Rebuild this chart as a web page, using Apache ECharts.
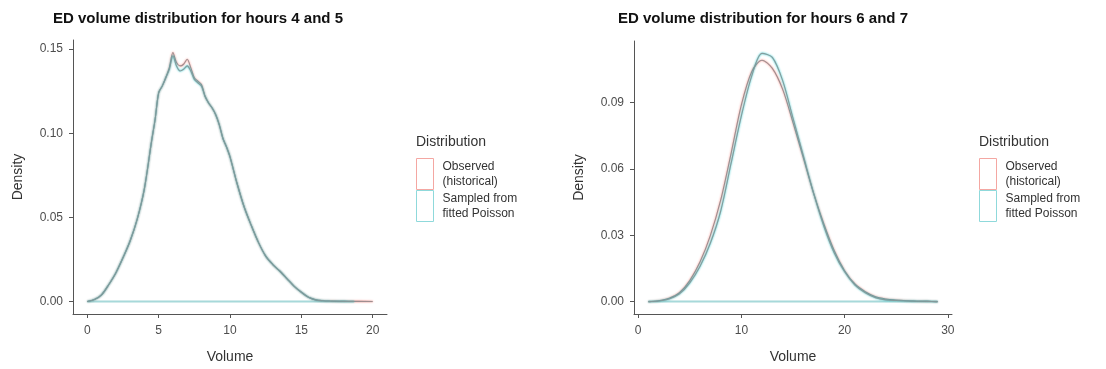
<!DOCTYPE html>
<html>
<head>
<meta charset="utf-8">
<script src="https://cdn.jsdelivr.net/npm/echarts@6/dist/echarts.min.js"></script>
<style>
  html, body { margin: 0; padding: 0; background: #fff; }
  #chart { width: 1106px; height: 369px; }
</style>
</head>
<body>
<div id="chart"></div>
<script>
// hours 4 and 5
const leftVolume = [0, 0.5, 1, 1.5, 2, 2.5, 3, 3.5, 4, 4.5, 4.75, 5, 5.25, 5.5, 5.75, 6, 6.25, 6.5, 6.75, 7, 7.25, 7.5, 7.75, 8, 8.25, 8.5, 8.75, 9, 9.25, 9.5, 9.75, 10, 10.5, 11, 11.5, 12, 12.5, 13, 13.5, 14, 14.5, 15, 15.5, 16, 16.5, 17, 18, 18.7, 19, 20]
const leftObserved = [0, 0.0012, 0.004, 0.010, 0.017, 0.026, 0.036, 0.049, 0.067, 0.095, 0.108, 0.124, 0.128, 0.133, 0.139, 0.148, 0.142, 0.140, 0.141, 0.144, 0.139, 0.133, 0.131, 0.129, 0.122, 0.118, 0.115, 0.111, 0.105, 0.097, 0.092, 0.086, 0.070, 0.056, 0.045, 0.035, 0.027, 0.022, 0.018, 0.0135, 0.009, 0.0055, 0.0025, 0.001, 0.0005, 0.0003, 0.0001, 0.0001, 0.0001, 0]
const leftFitted = [0, 0.0012, 0.004, 0.010, 0.017, 0.026, 0.036, 0.049, 0.067, 0.095, 0.108, 0.124, 0.128, 0.133, 0.138, 0.146, 0.140, 0.137, 0.138, 0.140, 0.137, 0.132, 0.130, 0.128, 0.122, 0.118, 0.115, 0.111, 0.105, 0.097, 0.092, 0.086, 0.070, 0.056, 0.045, 0.035, 0.027, 0.022, 0.018, 0.0135, 0.009, 0.0055, 0.0025, 0.001, 0.0005, 0.0003, 0.0001, 0, null, null]

// hours 6 and 7
const rightVolume = [1, 2, 3, 4, 5, 6, 7, 8, 9, 10, 11, 12, 13, 14, 15, 16, 17, 18, 19, 20, 21, 22, 23, 24, 25, 26, 27, 28, 29]
const rightObserved = [0, 0.0004, 0.0015, 0.004, 0.0095, 0.018, 0.030, 0.046, 0.067, 0.089, 0.104, 0.1092, 0.1055, 0.096, 0.081, 0.065, 0.049, 0.035, 0.023, 0.014, 0.008, 0.0045, 0.0022, 0.0012, 0.0007, 0.0004, 0.0002, 0.0001, 0]
const rightFitted = [0, 0.0003, 0.0012, 0.0035, 0.0085, 0.016, 0.0265, 0.041, 0.0625, 0.084, 0.102, 0.1123, 0.1105, 0.100, 0.083, 0.066, 0.049, 0.034, 0.022, 0.0135, 0.0075, 0.0040, 0.0018, 0.0008, 0.0005, 0.0003, 0.0002, 0.0001, 0]

const leftTicksX = [0, 5, 10, 15, 20]
const leftTicksY = [0, 0.05, 0.10, 0.15]
const rightTicksX = [0, 10, 20, 30]
const rightTicksY = [0, 0.03, 0.06, 0.09]

const obsName = 'Observed\n(historical)'
const fitName = 'Sampled from\nfitted Poisson'
const pink = '#F8766D'
const cyan = '#00BFC4'

function pairs (xs, ys) {
  let res = []
  for (let i = 0; i < xs.length; i++) {
    if (ys[i] !== null) res.push([xs[i], ys[i]])
  }
  return res
}

function baseline (xs, ys) {
  let pts = pairs(xs, ys)
  return [[pts[0][0], 0], [pts[pts.length - 1][0], 0]]
}

function xAxisOf (idx, min, max, ticks) {
  return {
    type: 'value', gridIndex: idx, min: min, max: max,
    name: 'Volume', nameLocation: 'middle', nameGap: 36,
    nameTextStyle: { fontSize: 14, color: '#333', fontFamily: 'Liberation Sans' },
    splitLine: { show: false },
    axisLine: { onZero: false, lineStyle: { color: '#555', width: 1 } },
    axisTick: { customValues: ticks, length: 4, lineStyle: { color: '#555' } },
    axisLabel: { customValues: ticks, margin: 11, fontSize: 12, color: '#4d4d4d', fontFamily: 'Liberation Sans' }
  }
}

function yAxisOf (idx, min, max, ticks) {
  return {
    type: 'value', gridIndex: idx, min: min, max: max,
    name: 'Density', nameLocation: 'middle', nameGap: 48,
    nameTextStyle: { fontSize: 14, color: '#333', fontFamily: 'Liberation Sans' },
    splitLine: { show: false },
    axisLine: { show: true, onZero: false, lineStyle: { color: '#555', width: 1 } },
    axisTick: { show: true, customValues: ticks, length: 4, lineStyle: { color: '#555' } },
    axisLabel: {
      customValues: ticks, margin: 10, fontSize: 12, color: '#4d4d4d', fontFamily: 'Liberation Sans',
      formatter: (v) => v.toFixed(2)
    }
  }
}

function curve (name, idx, data, color, core) {
  return {
    name: name, type: 'line', xAxisIndex: idx, yAxisIndex: idx,
    data: data, showSymbol: false, smooth: 0.3, silent: true,
    lineStyle: { color: core, width: 1.1, shadowColor: color, shadowBlur: 2, opacity: 0.95 },
    itemStyle: { color: color }
  }
}

function base (idx, data, color) {
  return {
    type: 'line', xAxisIndex: idx, yAxisIndex: idx, data: data,
    showSymbol: false, silent: true,
    lineStyle: { color: color, width: 2, opacity: 0.3 }
  }
}

function legendOf (left) {
  return {
    left: left, top: 158, orient: 'vertical', itemGap: 0, padding: 0,
    itemWidth: 17, itemHeight: 31, icon: 'rect',
    textStyle: { fontSize: 12, color: '#333', lineHeight: 15, fontFamily: 'Liberation Sans', padding: [0, 0, 0, 4] },
    data: [
      { name: obsName, itemStyle: { color: '#fff', borderColor: '#f4a7a2', borderWidth: 1 } },
      { name: fitName, itemStyle: { color: '#fff', borderColor: '#8fd9db', borderWidth: 1 } }
    ],
    selectedMode: false
  }
}

const titleStyle = { fontSize: 15, fontWeight: 'bold', color: '#111', fontFamily: 'Liberation Sans' }

const chart = echarts.init(document.getElementById('chart'))
chart.setOption({
  animation: false,
  title: [
    { text: 'ED volume distribution for hours 4 and 5', left: 53, top: 11, padding: 0, textStyle: titleStyle },
    { text: 'ED volume distribution for hours 6 and 7', left: 618, top: 11, padding: 0, textStyle: titleStyle }
  ],
  graphic: [
    { type: 'text', left: 416, top: 135, style: { text: 'Distribution', fontSize: 14, fill: '#333', fontFamily: 'Liberation Sans' } },
    { type: 'text', left: 979, top: 135, style: { text: 'Distribution', fontSize: 14, fill: '#333', fontFamily: 'Liberation Sans' } }
  ],
  legend: [legendOf(416), legendOf(979)],
  grid: [
    { left: 73, top: 40, width: 314, height: 277 },
    { left: 634, top: 41, width: 318, height: 276 }
  ],
  xAxis: [xAxisOf(0, -1, 21, leftTicksX), xAxisOf(1, -0.4, 30.4, rightTicksX)],
  yAxis: [yAxisOf(0, -0.0074, 0.1554, leftTicksY), yAxisOf(1, -0.0056, 0.1179, rightTicksY)],
  series: [
    base(0, baseline(leftVolume, leftObserved), '#c9a4a6'),
    base(0, baseline(leftVolume, leftFitted), cyan),
    curve(obsName, 0, pairs(leftVolume, leftObserved), pink, '#9a8c8e'),
    curve(fitName, 0, pairs(leftVolume, leftFitted), cyan, '#859899'),
    base(1, baseline(rightVolume, rightObserved), '#c9a4a6'),
    base(1, baseline(rightVolume, rightFitted), cyan),
    curve(obsName, 1, pairs(rightVolume, rightObserved), pink, '#9a8c8e'),
    curve(fitName, 1, pairs(rightVolume, rightFitted), cyan, '#859899')
  ]
})
</script>
</body>
</html>
